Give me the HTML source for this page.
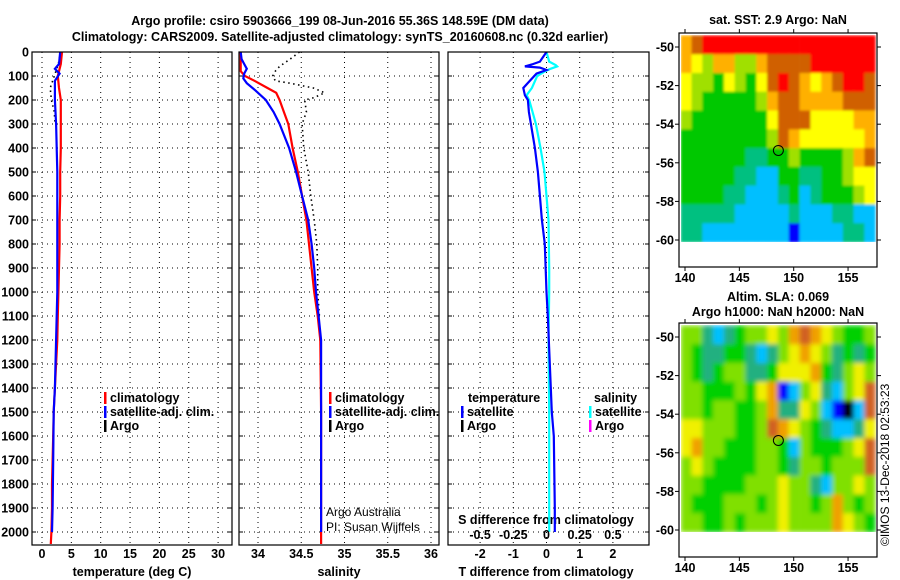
<!DOCTYPE html>
<html><head><meta charset="utf-8">
<style>
html,body{margin:0;padding:0;background:#fff;}
svg{display:block;font-family:"Liberation Sans",sans-serif;}
.b{font-weight:bold;font-size:12.5px;}
</style></head>
<body>
<svg id="fig" width="900" height="580" viewBox="0 0 900 580" xmlns="http://www.w3.org/2000/svg">
<defs>
<filter id="blur" x="0" y="0" width="1" height="1"><feGaussianBlur stdDeviation="2.5" edgeMode="duplicate"/></filter>
<filter id="blur2" x="0" y="0" width="1" height="1"><feGaussianBlur stdDeviation="1.2" edgeMode="duplicate"/></filter>
<clipPath id="clip1"><rect x="681" y="35" width="195" height="207"/></clipPath>
<clipPath id="clip2"><rect x="681" y="325" width="195" height="207"/></clipPath>
</defs>
<text class="b" x="340" y="25" text-anchor="middle" font-size="13.5">Argo profile: csiro 5903666_199 08-Jun-2016 55.36S 148.59E (DM data)</text>
<text class="b" x="340" y="41" text-anchor="middle" font-size="13.5">Climatology: CARS2009. Satellite-adjusted climatology: synTS_20160608.nc (0.32d earlier)</text>
<text class="b" x="778" y="24" text-anchor="middle">sat. SST: 2.9 Argo: NaN</text>
<text class="b" x="778" y="301" text-anchor="middle">Altim. SLA: 0.069</text>
<text class="b" x="778" y="316" text-anchor="middle">Argo h1000: NaN h2000: NaN</text>
<text x="0" y="0" font-size="12" transform="translate(889,546) rotate(-90)">©IMOS 13-Dec-2018 02:53:23</text>
<g id="plots"></g>
</svg>
<script>
// ---------------- data ----------------
const depthTicks = [0,100,200,300,400,500,600,700,800,900,1000,1100,1200,1300,1400,1500,1600,1700,1800,1900,2000];
const tempTicks = [0,5,10,15,20,25,30];
const salTicks = [34,34.5,35,35.5,36];
const salTickLabels = ["34","34.5","35","35.5","36"];
const tdTicks = [-2,-1,0,1,2];
const sdTicks = [-0.5,-0.25,0,0.25,0.5];
const sdTickLabels = ["-0.5","-0.25","0","0.25","0.5"];

const climTDepth = [0,50,100,150,200,300,400,500,600,700,800,900,1000,1100,1200,1300,1400,1500,1600,1700,1800,1900,2000,2050];
const climTemp   = [3.4,3.2,2.7,2.9,3.2,3.2,3.2,3.1,3.1,3.0,3.0,2.9,2.8,2.7,2.6,2.4,2.2,2.0,1.9,1.8,1.7,1.7,1.6,1.5];
const satTDepth  = [0,50,70,90,120,200,300,500,700,1000,1200,1400,1500,1700,1900,2000];
const satTemp    = [3.1,2.9,2.2,3.0,2.2,2.2,2.4,2.6,2.6,2.6,2.4,2.2,2.0,1.9,1.8,1.7];
const argoTDepth = [0,50,100,150,200,250,290];
const argoTemp   = [3.1,2.8,2.1,1.4,1.6,2.1,2.2];

const climSDepth = [0,80,100,120,150,170,200,250,300,400,500,600,700,800,900,1000,1100,1200,1500,2050];
const climSal    = [33.80,33.80,33.85,33.96,34.11,34.21,34.25,34.30,34.35,34.40,34.46,34.51,34.56,34.59,34.62,34.65,34.69,34.72,34.73,34.73];
const satSDepth  = [0,30,50,70,90,110,130,160,200,250,300,400,500,600,700,800,900,1000,1100,1200,2000];
const satSal     = [33.80,33.81,33.84,33.87,33.84,33.83,33.87,33.97,34.09,34.18,34.25,34.36,34.44,34.51,34.58,34.62,34.65,34.67,34.70,34.73,34.73];
const argoSDepth = [0,30,60,80,100,120,130,150,170,190,200,250,300,400,500,600,700,800,900,1000,1100];
const argoSal    = [34.48,34.37,34.25,34.20,34.17,34.20,34.37,34.64,34.77,34.65,34.54,34.56,34.51,34.53,34.58,34.61,34.65,34.68,34.69,34.69,34.71];

const tdDepth = [0,40,50,60,65,75,90,120,150,180,200,250,300,400,500,600,700,800,1000,1100,1200,1500,1600,1900,2000];
const tdVal   = [0,-0.2,-0.4,-0.65,-0.2,0,-0.3,-0.5,-0.7,-0.65,-0.56,-0.53,-0.47,-0.35,-0.26,-0.2,-0.14,-0.05,0,0.04,0.07,0.16,0.22,0.25,0.25];
const sdDepth = [0,40,55,60,70,80,100,150,180,200,300,400,500,600,700,900,1000,1200,1500,2000];
const sdVal   = [0,0.02,0.07,0.08,0.03,-0.01,-0.07,-0.11,-0.15,-0.13,-0.08,-0.045,-0.015,0,0.015,0.02,0.02,0.015,0.02,0.02];

const sstRows = [
"678888888888888888",
"654664467777888888",
"544354357876567887",
"543333346776666777",
"433333335777555566",
"333333334765555556",
"333333223343333467",
"333332211332233455",
"333322111231233345",
"222221111121112211",
"221111111101111221"];
const slaRows = [
"553234556578765445",
"543344323567653434",
"543455334666743565",
"554445467125632568",
"554554457336521028",
"665554458765432236",
"675544455425444568",
"565444455435545558",
"554444555655325565",
"544455545655457545",
"554454555655557654"];
const mapLonTicks = [140,145,150,155];
const mapLatTicks = [-50,-52,-54,-56,-58,-60];
const argoLon = [148.59];
const argoLat = [-55.36];

// ---------------- axes ----------------
const TOP=52, BOT=545;
const yD = d => TOP + d*0.24;
const xT = t => 42 + t*5.87;
const xS = s => 258 + (s-34)*86.5;
const xTd = v => 546.5 + v*33.2;
const xSd = v => 546.5 + v*132.8;
const NS="http://www.w3.org/2000/svg";
const root=document.getElementById('plots');
function mk(tag,attrs,parent){const e=document.createElementNS(NS,tag);for(const k in attrs)e.setAttribute(k,attrs[k]);(parent||root).appendChild(e);return e;}
function txt(s,x,y,anchor,parent,cls,extra){const e=mk('text',Object.assign({x:x,y:y,'text-anchor':anchor||'start'},extra||{}),parent);if(cls)e.setAttribute('class',cls);e.textContent=s;return e;}
function line(xs,ys,dp,fx,color,w,dash,parent){let p='';for(let i=0;i<xs.length;i++)p+=(i?'L':'M')+fx(xs[i]).toFixed(1)+','+yD(ys[i]).toFixed(1);const a={d:p,fill:'none',stroke:color,'stroke-width':w};if(dash)a['stroke-dasharray']=dash;return mk('path',a,parent);}

const panels=[{x0:32,x1:232,name:'temperature-panel'},{x0:239,x1:439,name:'salinity-panel'},{x0:448,x1:649,name:'difference-panel'}];
const gs=[];
panels.forEach((p,i)=>{
  const g=mk('g',{});
  
  
  gs.push(g);
  depthTicks.forEach(d=>{ if(d>0) mk('line',{x1:p.x0,x2:p.x1,y1:yD(d),y2:yD(d),stroke:'#000','stroke-width':1,'stroke-dasharray':'1 4'},g);
    mk('line',{x1:p.x0,x2:p.x0+4,y1:yD(d),y2:yD(d),stroke:'#000'},g);
    mk('line',{x1:p.x1-4,x2:p.x1,y1:yD(d),y2:yD(d),stroke:'#000'},g);});
});
const yl=mk('g',{});


depthTicks.forEach(d=>txt(String(d),29,yD(d)+4.5,'end',yl,'b'));
function vgrid(g,ticks,labels,fx,y,lname){
  const lg=mk('g',{},g);
  
  
  ticks.forEach((t,i)=>{const x=fx(t);mk('line',{x1:x,x2:x,y1:TOP,y2:BOT,stroke:'#000','stroke-dasharray':'1 4'},g);
    txt(labels[i],x,y,'middle',lg,'b');});
}
vgrid(gs[0],tempTicks,tempTicks.map(String),xT,558,'temperature-tick-labels');
vgrid(gs[1],salTicks,salTickLabels,xS,558,'salinity-tick-labels');
vgrid(gs[2],tdTicks,tdTicks.map(String),xTd,558,'t-difference-tick-labels');
const sdl=mk('g',{});


sdTicks.forEach((t,i)=>txt(sdTickLabels[i],xSd(t),539,'middle',sdl,'b'));
txt('temperature (deg C)',132,576,'middle',gs[0],'b');
txt('salinity',339,576,'middle',gs[1],'b');
txt('T difference from climatology',546,576,'middle',gs[2],'b');
txt('S difference from climatology',546,524,'middle',gs[2],'b');

let s;
s=line(argoTemp,argoTDepth,0,xT,'#000',1.6,'1.5 3.5',gs[0]);  
s=line(climTemp,climTDepth,0,xT,'#ff0000',2.2,null,gs[0]);  
s=line(satTemp,satTDepth,0,xT,'#0000ff',2.2,null,gs[0]);  
s=line(argoSal,argoSDepth,0,xS,'#000',1.6,'1.5 3.5',gs[1]);  
s=line(climSal,climSDepth,0,xS,'#ff0000',2.2,null,gs[1]);  
s=line(satSal,satSDepth,0,xS,'#0000ff',2.2,null,gs[1]);  
s=line(sdVal,sdDepth,0,xSd,'#00ffff',2.2,null,gs[2]);  
s=line(tdVal,tdDepth,0,xTd,'#0000ff',2.2,null,gs[2]);  

panels.forEach((p,i)=>mk('rect',{x:p.x0,y:TOP,width:p.x1-p.x0,height:BOT-TOP,fill:'none',stroke:'#000','stroke-width':1.2},gs[i]));

function legend(g,x,y,color,label,name){const e=mk('g',{},g);
  mk('rect',{x:x,y:y-10,width:2.5,height:12,fill:color},e);txt(label,x+6,y,'start',e,'b');}
legend(gs[0],104,402,'#ff0000','climatology','legend-climatology');
legend(gs[0],104,416,'#0000ff','satellite-adj. clim.','legend-satellite-adj');
legend(gs[0],104,430,'#000','Argo','legend-argo');
legend(gs[1],329,402,'#ff0000','climatology','legend-climatology-sal');
legend(gs[1],329,416,'#0000ff','satellite-adj. clim.','legend-satellite-adj-sal');
legend(gs[1],329,430,'#000','Argo','legend-argo-sal');
txt('temperature',468,402,'start',gs[2],'b');
legend(gs[2],461,416,'#0000ff','satellite','legend-temperature-satellite');
legend(gs[2],461,430,'#000','Argo','legend-temperature-argo');
txt('salinity',594,402,'start',gs[2],'b');
legend(gs[2],589,416,'#00ffff','satellite','legend-salinity-satellite');
legend(gs[2],589,430,'#ff00ff','Argo','legend-salinity-argo');
s=txt('Argo Australia',326,516,'start',gs[1],null,{'font-size':'12'}); 
s=txt('PI: Susan Wijffels',326,531,'start',gs[1],null,{'font-size':'12'}); 

// ---------------- maps ----------------
const sstColors=['#0000ff','#00bfff','#00c080','#00c800','#a0e000','#ffff00','#ffb000','#d06000','#ff0000'];
const slaColors=['#000000','#0000ff','#00c0ff','#20b080','#00d000','#80e000','#f0f000','#f0a000','#d06020'];
function map(rows,colors,dy,name,clip,filt){
  const g=mk('g',{});
  
  
  const cw=mk('g',{'clip-path':'url(#'+clip+')'},g);
  const cg=mk('g',{filter:'url(#'+filt+')'},cw);
  const lonX=l=>685+(l-140)*10.87, latY=l=>47+dy+(-50-l)*19.3;
  const lon0=139.6, lon1=157.5, lat0=-49.4, lat1=-60.1;
  const nr=rows.length, nc=rows[0].length;
  const dlon=(lon1-lon0)/nc, dlat=(lat0-lat1)/nr;
  for(let r=0;r<nr;r++)for(let c=0;c<nc;c++){
    const x0=lonX(lon0+c*dlon), x1=lonX(lon0+(c+1)*dlon), y0=latY(lat0-r*dlat), y1=latY(lat0-(r+1)*dlat);
    const cell=mk('rect',{x:x0.toFixed(1),y:y0.toFixed(1),width:(x1-x0+0.4).toFixed(1),height:(y1-y0+0.4).toFixed(1),fill:colors[+rows[r][c]]},cg);
    
    
  }
  mk('rect',{x:679,y:33+dy,width:198,height:234,fill:'none',stroke:'#000','stroke-width':1.2},g);
  mapLatTicks.forEach(l=>{const y=latY(l);mk('line',{x1:675,x2:679,y1:y,y2:y,stroke:'#000'},g);mk('line',{x1:877,x2:881,y1:y,y2:y,stroke:'#000'},g);
    txt(String(l),674,y+4.5,'end',g,'b');});
  mapLonTicks.forEach(l=>{const x=lonX(l);mk('line',{x1:x,x2:x,y1:29+dy,y2:33+dy,stroke:'#000'},g);mk('line',{x1:x,x2:x,y1:267+dy,y2:271+dy,stroke:'#000'},g);
    txt(String(l),x,282+dy,'middle',g,'b');});
  argoLon.forEach((lo,i)=>{const m=mk('circle',{cx:lonX(lo),cy:latY(argoLat[i]),r:5,fill:'none',stroke:'#000','stroke-width':1},g);
    
    });
}
map(sstRows,sstColors,0,'sst-map','clip1','blur2');
map(slaRows,slaColors,290,'sla-map','clip2','blur');
</script>
</body></html>
